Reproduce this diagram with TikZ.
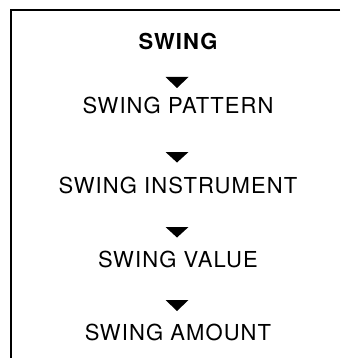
\documentclass[tikz,border=0pt]{standalone}
\usepackage{fontspec}
\newfontfamily\panelfont[LetterSpace=5]{TeX Gyre Heros}
\begin{document}
\begin{tikzpicture}[x=1pt,y=-1pt,
    menu/.style={anchor=base,inner sep=0pt,font=\panelfont\fontsize{22}{22}\selectfont}]
    \useasboundingbox (0,0) rectangle (340,358);
    % Frame
    \draw[line width=1.3pt] (340,10) -- (11,10) -- (11,358);
    % Menu entries
    \node[menu] (swing) at (178,50) {\bfseries SWING};
    \node[menu] (pattern) at (178,114) {SWING PATTERN};
    \node[menu] (instrument) at (178,193) {SWING INSTRUMENT};
    \node[menu] (value) at (178,267) {SWING VALUE};
    \node[menu] (amount) at (178,340) {SWING AMOUNT};
    % Pointers
    \fill (165.5,77) -- (188.5,77) -- (177,88) -- cycle;
    \fill (165.5,152) -- (188.5,152) -- (177,162.5) -- cycle;
    \fill (165.5,227) -- (188.5,227) -- (177,237.5) -- cycle;
    \fill (165.5,300) -- (188.5,300) -- (177,311) -- cycle;
\end{tikzpicture}
\end{document}
